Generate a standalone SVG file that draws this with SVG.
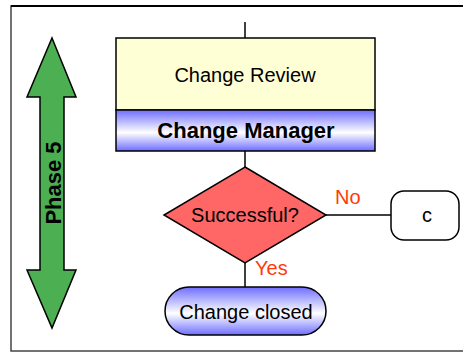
<svg xmlns="http://www.w3.org/2000/svg" width="463" height="352" viewBox="0 0 463 352">
<defs>
<linearGradient id="blue" x1="0" y1="0" x2="0" y2="1">
<stop offset="0" stop-color="#6E6EFF"/>
<stop offset="0.55" stop-color="#FFFFFF"/>
<stop offset="1" stop-color="#6E6EFF"/>
</linearGradient>
<style>
.t{font-family:"Liberation Sans",Arial,sans-serif;font-size:20px;fill:#000;text-anchor:middle}
.b{font-weight:bold;font-size:22px}
.lab{font-family:"Liberation Sans",Arial,sans-serif;font-size:20px;fill:#FF3A0A}
.ln{stroke:#000;stroke-width:1.5;fill:none}
.sh{stroke:#000;stroke-width:1.5}
</style>
</defs>
<rect x="11" y="6" width="470" height="345" fill="#fff" stroke="#444" stroke-width="1.5"/>
<line x1="11" y1="6" x2="463" y2="6" stroke="#000" stroke-width="2"/>
<g id="phase">
<polygon points="52,38 76,97 64,97 64,270 76,270 52,328 27,270 40,270 40,97 27,97" fill="#4CAF52" class="sh"/>
<text class="t b" transform="translate(61,183) rotate(-90)">Phase 5</text>
</g>
<g id="connectors">
<line class="ln" x1="245" y1="22" x2="245" y2="38"/>
<line class="ln" x1="245" y1="151" x2="245" y2="167"/>
<line class="ln" x1="245" y1="263" x2="245" y2="287"/>
<line class="ln" x1="326" y1="215" x2="391" y2="215"/>
<text class="lab" x="335" y="204">No</text>
<text class="lab" x="255" y="275">Yes</text>
</g>
<g id="review">
<rect x="116" y="38" width="259" height="72" fill="#FFFFD6" class="sh"/>
<rect x="116" y="110" width="259" height="41" fill="url(#blue)" class="sh"/>
<text class="t" x="245" y="82">Change Review</text>
<text class="t b" x="246" y="138">Change Manager</text>
</g>
<g id="decision">
<polygon points="245,167 326,215 245,263 164,215" fill="#FF6666" class="sh"/>
<text class="t" x="245" y="222">Successful?</text>
</g>
<g id="c">
<rect x="391" y="191" width="68" height="49" rx="13" ry="13" fill="#fff" class="sh"/>
<text class="t" x="427" y="222">c</text>
</g>
<g id="closed">
<rect x="165" y="287" width="161" height="48" rx="24" ry="24" fill="url(#blue)" class="sh"/>
<text class="t" x="246" y="319">Change closed</text>
</g>
</svg>
